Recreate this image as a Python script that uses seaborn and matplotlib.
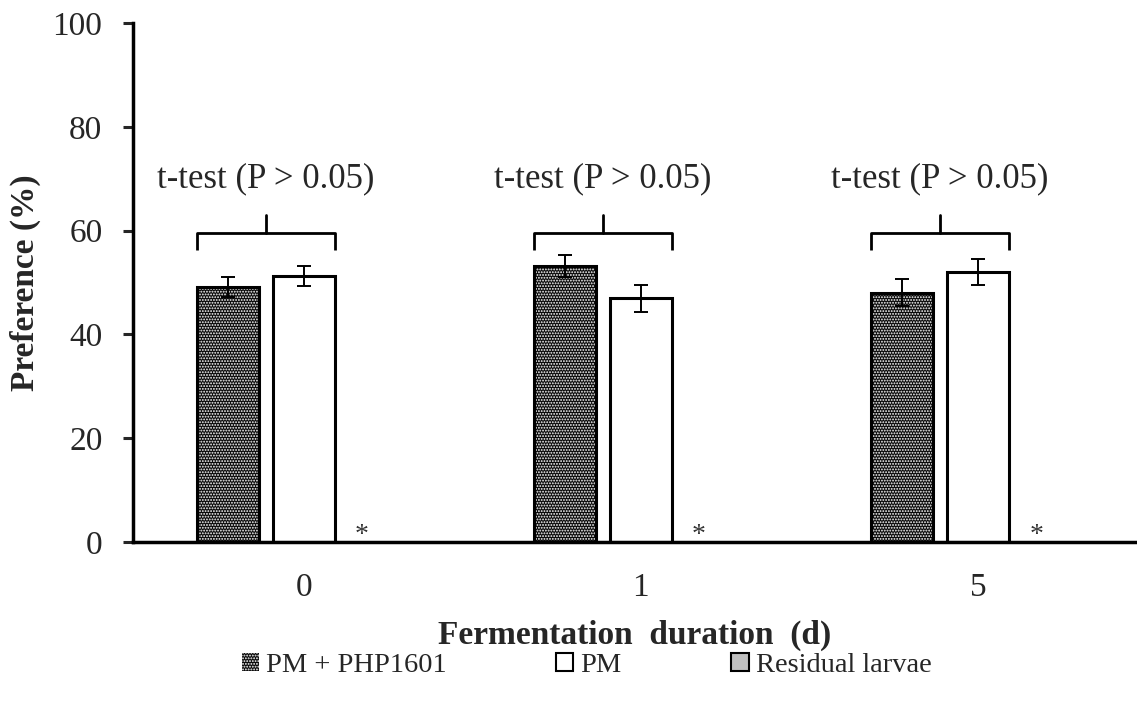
import matplotlib
matplotlib.use("Agg")
import matplotlib.pyplot as plt
from matplotlib.patches import Patch, Rectangle
import numpy as np
import pandas as pd
import seaborn as sns

# Data
durations = ["0", "1", "5"]
treatments = ["PM + PHP1601", "PM", "Residual larvae"]
pm_php1601 = [49.1, 53.2, 48.0]
pm = [51.2, 47.0, 52.1]
residual = [0.0, 0.0, 0.0]
pm_php1601_err = [1.9, 2.2, 2.6]
pm_err = [1.9, 2.6, 2.5]
residual_err = [0.0, 0.0, 0.0]
yticks = [0, 20, 40, 60, 80, 100]
test_label = "t-test (P > 0.05)"

values = [pm_php1601, pm, residual]
errors = [pm_php1601_err, pm_err, residual_err]

df = pd.DataFrame({
    "duration": np.repeat([durations], 3, axis=0).ravel(),
    "treatment": np.repeat(treatments, len(durations)),
    "preference": np.concatenate(values),
})

sns.set_style("white")
plt.rcParams["font.family"] = ["Liberation Serif", "DejaVu Serif"]
plt.rcParams["hatch.linewidth"] = 0.9

fig = plt.figure(figsize=(11.37, 7.09), dpi=100)
ax = fig.add_axes([0.117, 0.2355, 0.883, 0.732])

sns.barplot(data=df, x="duration", y="preference", hue="treatment",
            order=durations, hue_order=treatments, errorbar=None,
            width=0.672, gap=0.18, legend=False, ax=ax)

DOTS = "......"
styles = [
    dict(face="#0a0a0a", hatch=DOTS, hatch_col="white"),
    dict(face="white", hatch=None, hatch_col=None),
    dict(face="#bfbfbf", hatch=None, hatch_col=None),
]

edge_lw = 2.2
for cont, st, errs, vals in zip(ax.containers, styles, errors, values):
    for bar, e, v in zip(cont.patches, errs, vals):
        x0, w, h = bar.get_x(), bar.get_width(), bar.get_height()
        if st["hatch"]:
            bar.set_facecolor(st["face"])
            bar.set_hatch(st["hatch"])
            bar.set_edgecolor(st["hatch_col"])
            bar.set_linewidth(0)
            if h > 0:
                ax.add_patch(Rectangle((x0, 0), w, h, fill=False,
                                       edgecolor="black", lw=edge_lw, zorder=3))
        else:
            bar.set_facecolor(st["face"])
            bar.set_edgecolor("black")
            bar.set_linewidth(edge_lw if h > 0 else 0)
        if h > 0:
            ax.errorbar(x0 + w / 2, v, yerr=e, fmt="none", ecolor="black",
                        elinewidth=1.4, capsize=5, capthick=1.4, zorder=4)

# Residual larvae: none left, marked with an asterisk at the bar base
for bar in ax.containers[2].patches:
    ax.text(bar.get_x() + bar.get_width() * 0.22, 0.0, "*", ha="center",
            va="baseline", fontsize=20, color="#333333")

# Brackets with t-test annotations over each pair
br_low, br_y, br_top = 56.3, 59.6, 63.0
for i in range(len(durations)):
    left = ax.containers[0].patches[i]
    right = ax.containers[1].patches[i]
    xl = left.get_x()
    xr = right.get_x() + right.get_width()
    xm = (xl + xr) / 2
    ax.plot([xl, xl, xr, xr], [br_low, br_y, br_y, br_low], color="black",
            lw=2.0, solid_joinstyle="round", solid_capstyle="butt")
    ax.plot([xm, xm], [br_y, br_top], color="black", lw=2.0)
    ax.text(xm, 70, test_label, ha="center", va="center", fontsize=25)

ax.set_ylim(0, 100)
ax.set_xlim(-0.507, 2.472)
ax.set_yticks(yticks)
ax.set_yticklabels([str(t) for t in yticks], fontsize=24)
ax.set_xticks(range(len(durations)))
ax.set_xticklabels(durations, fontsize=24)
ax.tick_params(axis="y", direction="out", length=7, width=2.2, pad=15, left=True)
ax.tick_params(axis="x", length=0, pad=22)

for side in ["top", "right"]:
    ax.spines[side].set_visible(False)
for side in ["left", "bottom"]:
    ax.spines[side].set_linewidth(2.5)
    ax.spines[side].set_color("black")

ax.set_ylabel("Preference (%)", fontsize=24, fontweight="bold", labelpad=8)
ax.set_xlabel("Fermentation  duration  (d)", fontsize=24, fontweight="bold",
              labelpad=12)

handles = [
    Patch(facecolor="#0a0a0a", edgecolor="white", hatch=DOTS, lw=0),
    Patch(facecolor="white", edgecolor="black", lw=1.5),
    Patch(facecolor="#bfbfbf", edgecolor="black", lw=1.5),
]
fig.legend(handles, treatments, ncol=3, loc="center",
           bbox_to_anchor=(0.516, 0.062), frameon=False, fontsize=20.5,
           handlelength=0.6, handleheight=0.6, handletextpad=0.25,
           columnspacing=3.85)

fig.savefig("out.png", dpi=100)
